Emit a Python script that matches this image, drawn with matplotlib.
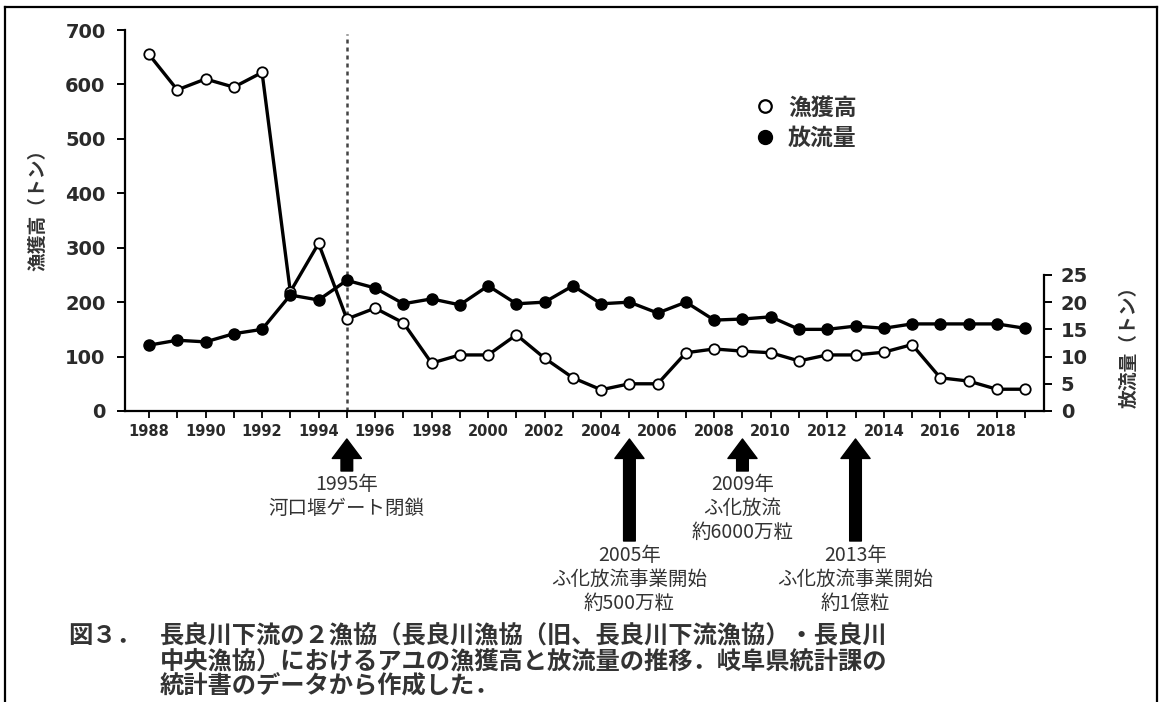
import matplotlib
matplotlib.use("Agg")
import matplotlib.pyplot as plt
from matplotlib.lines import Line2D
import matplotlib.transforms as mtransforms

plt.rcParams['font.family'] = ['Noto Sans CJK JP', 'DejaVu Sans']

# ---- data ----
years = list(range(1988, 2020))
catch_t = [655, 590, 610, 595, 622, 219, 308, 169, 189, 162, 88, 103, 103, 140,
           97, 61, 39, 50, 50, 107, 114, 110, 107, 92, 103, 103, 108, 122,
           61, 55, 40, 40]
release_t = [12.1, 13.0, 12.7, 14.2, 15.0, 21.3, 20.4, 24.0, 22.6, 19.7, 20.6,
             19.5, 23.0, 19.7, 20.0, 23.0, 19.7, 20.0, 18.0, 20.0, 16.7, 16.9,
             17.3, 15.0, 15.0, 15.6, 15.2, 16.0, 16.0, 16.0, 16.0, 15.2]
xtick_years = list(range(1988, 2019, 2))
left_ticks = [0, 100, 200, 300, 400, 500, 600, 700]
right_ticks = [0, 5, 10, 15, 20, 25]
legend_labels = ['漁獲高', '放流量']
left_label = '漁獲高（トン）'
right_label = '放流量（トン）'
gate_year = 1995
events = [
    (1995, '1995年\n河口堰ゲート閉鎖', 'short'),
    (2005, '2005年\nふ化放流事業開始\n約500万粒', 'long'),
    (2009, '2009年\nふ化放流\n約6000万粒', 'short'),
    (2013, '2013年\nふ化放流事業開始\n約1億粒', 'long'),
]
caption_lines = [
    '図３．',
    '長良川下流の２漁協（長良川漁協（旧、長良川下流漁協）・長良川',
    '中央漁協）におけるアユの漁獲高と放流量の推移．岐阜県統計課の',
    '統計書のデータから作成した．',
]

W, H = 1164, 702
fig = plt.figure(figsize=(W / 100, H / 100), dpi=100)
fig.patch.set_facecolor('white')

ax_l, ax_r, ax_b, ax_t = 125, 1044, 411, 30
ax = fig.add_axes([ax_l / W, 1 - ax_b / H, (ax_r - ax_l) / W, (ax_b - ax_t) / H])
ax.set_xlim(1987.15, 2019.67)
ax.set_ylim(0, 700)

tick_col = '#2a2a2a'
txt_col = '#333333'

# dashed line at gate closing
ax.axvline(gate_year, ymin=0, ymax=0.99, color='#444444', lw=1.8,
           ls=(0, (1.6, 1.6)), zorder=1)

# catch (left axis)
ax.plot(years, catch_t, color='black', lw=2.4, marker='o', ms=7.5,
        mfc='white', mec='black', mew=1.3, zorder=4)

# release on twin axis
ax2 = ax.twinx()
ax2.set_ylim(0, 70)
ax2.plot(years, release_t, color='black', lw=2.4, marker='o', ms=8,
         mfc='black', mec='black', zorder=3)

# spines
for a in (ax, ax2):
    a.spines['top'].set_visible(False)
    a.patch.set_visible(False)
ax.spines['right'].set_visible(False)
ax2.spines['left'].set_visible(False)
ax2.spines['bottom'].set_visible(False)
ax2.spines['right'].set_bounds(0, 25)
for s in ('left', 'bottom'):
    ax.spines[s].set_linewidth(1.6)
ax2.spines['right'].set_linewidth(1.6)

ax.set_yticks(left_ticks)
ax.set_yticklabels([str(v) for v in left_ticks], fontsize=14,
                   family='DejaVu Sans', color=tick_col, fontweight='bold')
ax.tick_params(axis='y', direction='out', length=6, width=1.4, pad=8)
ax.set_xticks(years, minor=True)
ax.set_xticks(xtick_years)
ax.set_xticklabels([str(y) for y in xtick_years], fontsize=10.5,
                   family='DejaVu Sans', color=tick_col, fontweight='bold')
ax.tick_params(axis='x', which='both', direction='out', length=5, width=1.3, pad=4)

ax2.set_yticks(right_ticks)
ax2.set_yticklabels([str(v) for v in right_ticks], fontsize=14,
                    family='DejaVu Sans', color=tick_col, fontweight='bold')
ax2.tick_params(axis='y', direction='out', length=6, width=1.4, pad=6)

# axis labels
fig.text(38 / W, 1 - 205 / H, left_label, rotation=90, ha='center', va='center',
         fontsize=13.5, color=txt_col, fontweight='bold')
fig.text(1129 / W, 1 - 342 / H, right_label, rotation=90, ha='center', va='center',
         fontsize=13.5, color=txt_col, fontweight='bold')

# legend
handles = [
    Line2D([], [], ls='none', marker='o', ms=9, mfc='white', mec='black', mew=1.6),
    Line2D([], [], ls='none', marker='o', ms=10, mfc='black', mec='black'),
]
leg = ax.legend(handles, legend_labels, loc='upper left',
                bbox_to_anchor=(0.664, 0.88), frameon=False, fontsize=16.5,
                handlelength=0.8, handletextpad=0.6, labelspacing=0.32)
for t in leg.get_texts():
    t.set_color(txt_col)
    t.set_fontweight('bold')

# event arrows and notes
trans = mtransforms.blended_transform_factory(ax.transData, ax.transAxes)
def yfrac(py):
    return (ax_b - py) / (ax_b - ax_t)

for yr, label, kind in events:
    tail_py = 541 if kind == 'long' else 471
    text_py = 545 if kind == 'long' else 474
    ax.annotate('', xy=(yr, yfrac(439)), xycoords=trans,
                xytext=(yr, yfrac(tail_py)), textcoords=trans,
                arrowprops=dict(arrowstyle='simple,head_length=0.7,head_width=1.05,tail_width=0.42',
                                mutation_scale=20, color='black', shrinkA=0, shrinkB=0),
                annotation_clip=False)
    ax.text(yr, yfrac(text_py), label, transform=trans, ha='center', va='top',
            fontsize=14, color=txt_col, linespacing=1.2, clip_on=False)

# caption
fig.text(68 / W, 1 - 636 / H, caption_lines[0], fontsize=17.5, color=txt_col,
         va='center', ha='left', fontweight='bold')
for i, line in enumerate(caption_lines[1:]):
    fig.text(160 / W, 1 - (636 + 25 * i) / H, line, fontsize=17.5, color=txt_col,
             va='center', ha='left', fontweight='bold')

# outer frame
for (x0, y0, x1, y1) in [(5, 7, 5, 702), (5, 7, 1157, 7), (1157, 7, 1157, 702)]:
    fig.add_artist(Line2D([x0 / W, x1 / W], [1 - y0 / H, 1 - y1 / H],
                          transform=fig.transFigure, color='black', lw=1.6))

fig.savefig('out.png', dpi=100, facecolor='white')
